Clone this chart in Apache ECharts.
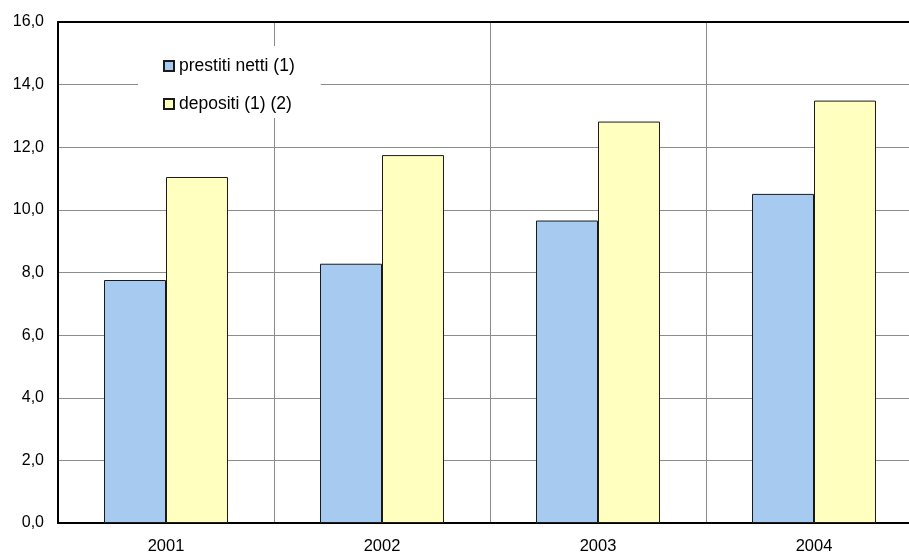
<!DOCTYPE html>
<html>
<head>
<meta charset="utf-8">
<script src="https://cdn.jsdelivr.net/npm/echarts@6/dist/echarts.min.js"></script>
<style>
html,body{margin:0;padding:0;background:#fff;overflow:hidden;width:909px;height:558px;}
#chart{width:930px;height:558px;}
</style>
</head>
<body>
<div id="chart"></div>
<script>
var categories = ['2001', '2002', '2003', '2004'];
var prestitiNetti = [7.76, 8.28, 9.66, 10.51];
var depositi = [11.05, 11.75, 12.82, 13.49];
var seriesNames = ['prestiti netti (1)', 'depositi (1) (2)'];
var yMin = 0, yMax = 16, yStep = 2;

var chart = echarts.init(document.getElementById('chart'), null, {renderer: 'canvas'});
var font = '"Liberation Sans", Arial, sans-serif';
chart.setOption({
  animation: false,
  backgroundColor: '#fff',
  grid: {left: 58, top: 22, right: 8, bottom: 35, containLabel: false},
  legend: {
    orient: 'vertical',
    left: 138, top: 46,
    padding: [11, 26, 5, 25],
    backgroundColor: '#ffffff',
    itemWidth: 10, itemHeight: 10,
    itemGap: 20,
    icon: 'rect',
    textStyle: {fontFamily: font, fontSize: 17.5, color: '#000'},
    data: seriesNames,
    z: 10
  },
  xAxis: [{
    type: 'category',
    data: categories,
    axisLine: {show: true, lineStyle: {color: '#000', width: 2}},
    axisTick: {show: false},
    axisLabel: {fontFamily: font, fontSize: 16.5, color: '#000', margin: 15},
    splitLine: {show: true, lineStyle: {color: '#8c8c8c', width: 1}}
  }, {
    type: 'category',
    data: categories,
    position: 'top',
    axisLine: {show: true, lineStyle: {color: '#000', width: 2}},
    axisTick: {show: false},
    axisLabel: {show: false},
    splitLine: {show: false}
  }],
  yAxis: {
    type: 'value',
    min: yMin, max: yMax, interval: yStep,
    axisLine: {show: true, lineStyle: {color: '#000', width: 2}},
    axisTick: {show: false},
    axisLabel: {
      fontFamily: font, fontSize: 16, color: '#000', margin: 14,
      formatter: function (v) { return v.toFixed(1).replace('.', ','); }
    },
    splitLine: {show: true, lineStyle: {color: '#8c8c8c', width: 1}}
  },
  series: [{
    name: seriesNames[0],
    type: 'bar',
    data: prestitiNetti,
    barGap: '0%',
    barCategoryGap: '42.6%',
    itemStyle: {color: '#a6caf0', borderColor: '#1a1a1a', borderWidth: 1}
  }, {
    name: seriesNames[1],
    type: 'bar',
    data: depositi,
    barGap: '0%',
    barCategoryGap: '42.6%',
    itemStyle: {color: '#ffffc0', borderColor: '#1a1a1a', borderWidth: 1}
  }]
});
</script>
</body>
</html>
